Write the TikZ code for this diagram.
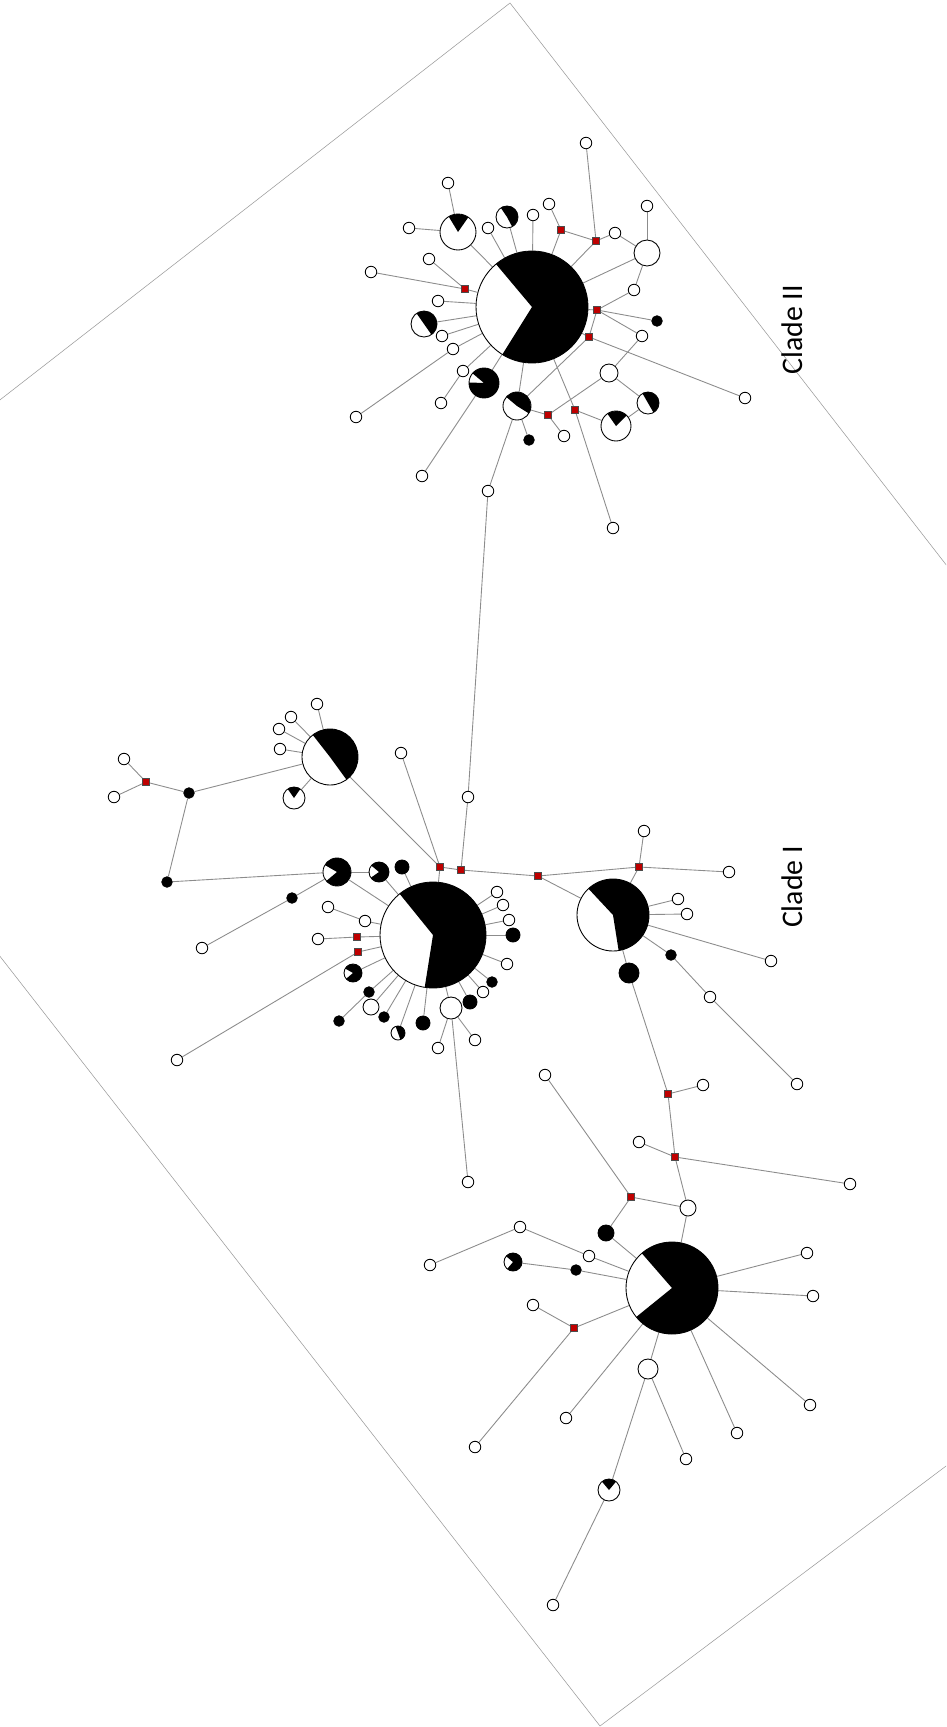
\documentclass[tikz,border=0pt]{standalone}
\usepackage{fontspec}
\newfontfamily\cladefont{Carlito}
\usetikzlibrary{positioning}
\pgfdeclarelayer{background}
\pgfsetlayers{background,main}
% black part of a pie node: node, radius (px), start and end angle
\newcommand{\pieblack}[4]{\fill[black] (#1.center) -- ++(#3:{#2*0.2mm}) arc[start angle=#3, end angle=#4, radius={#2*0.2mm}] -- cycle;}

\begin{document}
\begin{tikzpicture}[x=0.2mm, y=-0.2mm,
			hap/.style={circle, draw=black, fill=white, line width=0.5pt, inner sep=0pt, minimum size=2.3mm},
			hapb/.style={hap, fill=black, minimum size=2.1mm},
			pie/.style={circle, draw=black, fill=white, line width=0.5pt, inner sep=0pt, minimum size=#1*0.4mm},
			blob/.style={pie=#1, fill=black},
			mv/.style={rectangle, draw=black!70, fill=red!75!black, line width=0.3pt, inner sep=0pt, minimum size=1.4mm},
			link/.style={draw=black!45, line width=0.5pt},
			clade/.style={font=\cladefont\fontsize{17}{20}\selectfont, rotate=90}]

			\useasboundingbox (0,0) rectangle (946,1727);
			\begin{scope}
				\clip (0,0) rectangle (946,1727);
				\draw[black!40, line width=0.3pt] (510,3) -- (1388,1134) -- (600,1726) -- (-270,610) -- cycle;
			\end{scope}

			% Clade II
			\node[pie=56] (hubII) at (532,307) {};
			\foreach \n/\r/\x/\y in {pM/18/458/232, pN/11/507/217, pO/13/424/324, pL/15/484/383,
				pI/15/616/426, pH/11/648/403, pK/14/517/406, w5/13/647/253, w6/9/609/373}
				\node[pie=\r] (\n) at (\x,\y) {};
			\foreach \n/\x/\y in {b1/586/143, b2/549/204, b3/615/233, b4/647/206, b5/634/290,
				b6/642/336, b7/745/398, b8/613/528, b9/564/436, b10/488/491, b11/422/476,
				b12/356/417, b13/441/403, b14/463/371, b15/453/349, b16/442/336, b17/438/301,
				b18/371/272, b19/429/259, b20/409/228, b21/448/183, b22/488/228, b23/533/215}
				\node[hap] (\n) at (\x,\y) {};
			\node[hapb] (e1) at (657,321) {};
			\node[hapb] (e2) at (529,440) {};
			\foreach \n/\x/\y in {m1/561/230, m2/596/241, m3/597/310, m4/589/337,
				m5/548/415, m6/575/410, m7/465/289}
				\node[mv] (\n) at (\x,\y) {};

			% Clade I
			\node[pie=53] (hubI) at (433,935) {};
			\node[pie=46] (hubIb) at (672,1288) {};
			\foreach \n/\r/\x/\y in {pS/36/613/915, pR/28/330/757, pT/11/294/798, pX/14/337/872,
				pY/10/379/872, pU/9/353/973, pV/7/398/1033, pW/9/513/1262, pZ/11/609/1490,
				w1/11/451/1008, w2/8/371/1007, w3/8/688/1208, w4/10/648/1369}
				\node[pie=\r] (\n) at (\x,\y) {};
			\foreach \n/\r/\x/\y in {g1/7/402/867, g2/7/423/1023, g3/7/470/1002, g4/7/513/935,
				g5/10/629/973, g6/8/606/1233}
				\node[blob=\r] (\n) at (\x,\y) {};
			\foreach \n/\x/\y in {a1/468/797, a2/401/753, a3/317/704, a4/291/717, a5/279/729,
				a6/280/749, a7/124/759, a8/114/797, a9/202/948, a10/328/907, a11/365/921,
				a12/318/939, a13/177/1060, a14/438/1048, a15/475/1040, a16/468/1182,
				a17/483/992, a18/507/964, a19/509/920, a20/503/905, a21/497/892, a22/644/831,
				a23/729/872, a24/678/899, a25/687/914, a26/771/961, a27/710/997, a28/797/1084,
				a29/703/1085, a30/639/1142, a31/850/1184, a32/545/1075, a33/807/1253,
				a34/813/1296, a35/810/1405, a36/737/1433, a37/686/1459, a38/566/1418,
				a39/533/1305, a40/475/1447, a41/589/1256, a42/520/1227, a43/430/1265, a44/553/1605}
				\node[hap] (\n) at (\x,\y) {};
			\foreach \n/\x/\y in {d1/189/793, d2/167/882, d3/292/898, d4/369/992, d5/339/1021,
				d6/384/1017, d7/492/982, d8/671/955, d9/576/1270}
				\node[hapb] (\n) at (\x,\y) {};
			\foreach \n/\x/\y in {q1/440/867, q2/461/870, q3/538/876, q4/639/867, q5/146/782,
				q6/357/937, q7/358/952, q8/668/1094, q9/675/1157, q10/631/1197, q11/574/1328}
				\node[mv] (\n) at (\x,\y) {};

			% pie slices
			\foreach \n/\r/\a/\b in {hubII/56/238/490, pM/18/55/121, pN/11/-62/124, pO/13/-55/125,
				pL/15/178/500, pI/15/45/125, pH/11/-60/120, pK/14/-32/140,
				hubI/53/261/489, hubIb/46/219/491, pS/36/279/493, pR/28/-54/128, pT/11/55/125,
				pX/14/220/510, pY/10/215/500, pU/9/220/510, pV/7/-70/110, pW/9/230/500, pZ/11/50/130}
				{\pieblack{\n}{\r}{\a}{\b}}

			\node[clade] (cladeII) at (792,330) {Clade II};
			\node[clade] (cladeI) at (792,887) {Clade I};

			\begin{pgfonlayer}{background}
			\fill[white] (0,0) rectangle (946,1727);
			\foreach \u/\v in {hubII/m1, m1/b2, m1/m2, m2/b1, m2/hubII, m2/b3, b3/w5, w5/b4,
				w5/hubII, w5/b5, b5/m3, m3/hubII, m3/e1, m3/b6, m3/m4, b6/w6, m4/hubII, m4/b7,
				m4/pK, w6/pH, w6/m5, pH/pI, pI/m6, m6/hubII, m6/b8, m5/pK, m5/b9, pK/hubII,
				pK/e2, pK/b10, pL/hubII, pL/b11, b13/b14, b14/hubII, b12/b15, b15/hubII,
				b16/hubII, pO/hubII, b17/hubII, m7/hubII, m7/b18, m7/b19, pM/hubII, pM/b20,
				pM/b21, b22/hubII, pN/hubII, b23/hubII, b10/a1}
				\draw[link] (\u) -- (\v);
			\foreach \u/\v in {hubI/q1, q1/pR, q1/a2, q1/q2, q2/a1, q2/q3, q3/q4, q3/pS, q4/a22,
				q4/a23, q4/pS, pR/a3, pR/a4, pR/a5, pR/a6, pR/pT, pR/d1, d1/q5, q5/a7, q5/a8,
				d1/d2, d2/pX, pX/hubI, pX/pY, pX/d3, d3/a9, pY/hubI, g1/hubI, a10/a11, a11/hubI,
				a12/q6, q6/hubI, q7/hubI, q7/a13, pU/hubI, d4/hubI, d4/d5, w2/hubI, d6/hubI,
				pV/hubI, g2/hubI, w1/hubI, w1/a14, w1/a15, w1/a16, g3/hubI, a17/hubI, d7/hubI,
				a18/hubI, g4/hubI, a19/hubI, a20/hubI, a21/hubI}
				\draw[link] (\u) -- (\v);
			\foreach \u/\v in {pS/a24, pS/a25, pS/a26, pS/d8, d8/a27, a27/a28, pS/g5, g5/q8,
				q8/a29, q8/q9, q9/a30, q9/a31, q9/w3, w3/hubIb, w3/q10, q10/a32, q10/g6,
				g6/hubIb, hubIb/a33, hubIb/a34, hubIb/a35, hubIb/a36, hubIb/w4, w4/a37, w4/pZ,
				pZ/a44, hubIb/a38, hubIb/q11, q11/a39, q11/a40, hubIb/a41, a41/a42, a42/a43,
				hubIb/d9, d9/pW}
				\draw[link] (\u) -- (\v);
			\end{pgfonlayer}
		\end{tikzpicture}
\end{document}
